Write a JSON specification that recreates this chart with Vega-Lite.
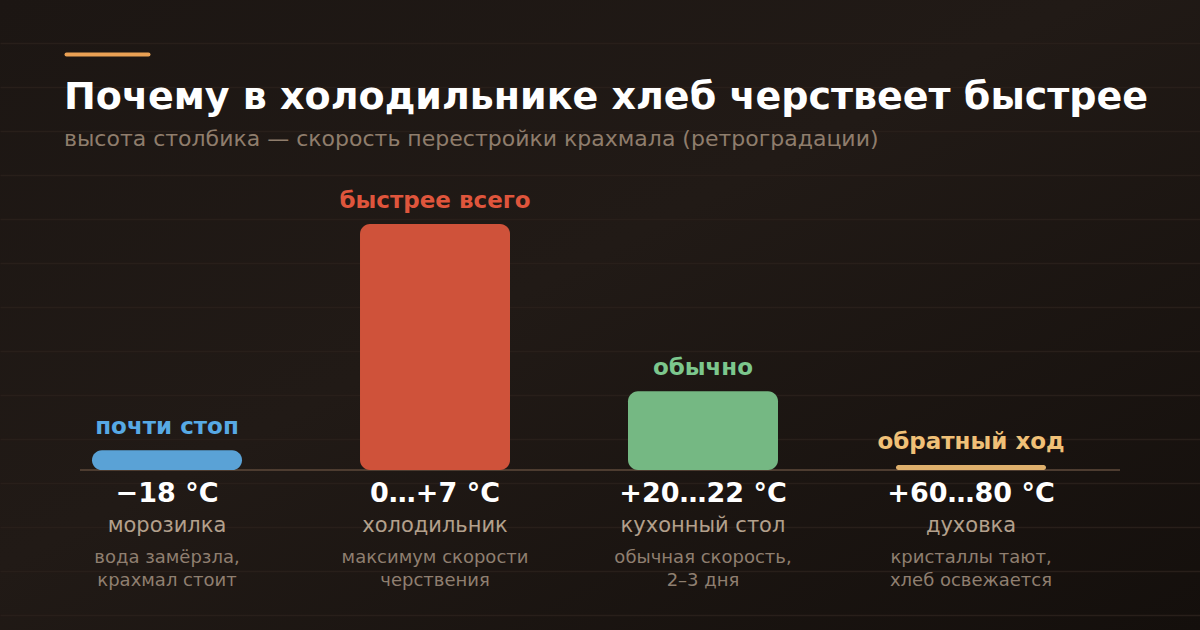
{
  "$schema": "https://vega.github.io/schema/vega-lite/v6.json",
  "description": "Почему в холодильнике хлеб черствеет быстрее: относительная скорость ретроградации крахмала при разных температурах.",
  "width": 1200,
  "height": 630,
  "padding": 0,
  "autosize": "none",
  "background": "#1e1814",
  "title": {
    "text": "Почему в холодильнике хлеб черствеет быстрее",
    "subtitle": "высота столбика — скорость перестройки крахмала (ретроградации)",
    "anchor": "start",
    "frame": "group",
    "offset": 0,
    "dx": 64,
    "dy": 150,
    "font": "DejaVu Sans",
    "fontSize": 38,
    "fontWeight": "bold",
    "color": "#ffffff",
    "subtitleFont": "DejaVu Sans",
    "subtitleFontSize": 22,
    "subtitleColor": "#8f7d6c",
    "subtitlePadding": 12
  },
  "config": {
    "view": {
      "stroke": null,
      "fill": {
        "gradient": "linear",
        "x1": 0, "y1": 0, "x2": 1, "y2": 1,
        "stops": [
          {"offset": 0, "color": "#1c1613"},
          {"offset": 0.45, "color": "#211a16"},
          {"offset": 1, "color": "#140f0c"}
        ]
      }
    },
    "text": {"font": "DejaVu Sans"}
  },
  "data": {
    "values": [
      {"place": "морозилка", "temp": "−18 °C", "note": "вода замёрзла,\nкрахмал стоит", "tag": "почти стоп", "speed": 8},
      {"place": "холодильник", "temp": "0…+7 °C", "note": "максимум скорости\nчерствения", "tag": "быстрее всего", "speed": 100},
      {"place": "кухонный стол", "temp": "+20…22 °C", "note": "обычная скорость,\n2–3 дня", "tag": "обычно", "speed": 32},
      {"place": "духовка", "temp": "+60…80 °C", "note": "кристаллы тают,\nхлеб освежается", "tag": "обратный ход", "speed": 2}
    ]
  },
  "layer": [
    {
      "mark": {"type": "rule", "color": "#4d3c30", "strokeWidth": 2, "strokeDash": [1040, 3000], "strokeDashOffset": 3960},
      "encoding": {
        "y": {"datum": 0, "type": "quantitative"}
      }
    },
    {
      "mark": {"type": "bar", "cornerRadius": 10},
      "encoding": {
        "x": {
          "field": "place",
          "type": "nominal",
          "sort": null,
          "scale": {"paddingInner": 0.4403, "paddingOuter": 0.459, "align": 0.374},
          "axis": {
            "orient": "top",
            "title": null,
            "labels": false,
            "ticks": false,
            "grid": false,
            "offset": -54,
            "domainColor": "#eaa154",
            "domainWidth": 4,
            "domainCap": "round",
            "domainDash": [82, 3000],
            "domainDashOffset": 3016
          }
        },
        "y": {
          "field": "speed",
          "type": "quantitative",
          "scale": {"domain": [-65.041, 191.057], "nice": false, "zero": false},
          "axis": {
            "title": null,
            "labels": false,
            "ticks": false,
            "domain": false,
            "grid": true,
            "gridColor": "#281f1a",
            "gridWidth": 1.5,
            "values": [173.58, 155.69, 137.80, 119.92, 102.03, 84.15, 66.26, 48.37, 30.49, 12.60, -5.28, -23.17, -41.06, -58.94]
          }
        },
        "y2": {"datum": 0},
        "fill": {
          "field": "place",
          "type": "nominal",
          "sort": null,
          "scale": {
            "domain": ["морозилка", "холодильник", "кухонный стол", "духовка"],
            "range": ["#5aa2d6", "#cf523a", "#75b883", "#dfb06c"]
          },
          "legend": null
        }
      }
    },
    {
      "mark": {"type": "text", "dy": -16, "baseline": "alphabetic", "fontSize": 23, "fontWeight": "bold"},
      "encoding": {
        "x": {"field": "place", "type": "nominal", "sort": null},
        "y": {"field": "speed", "type": "quantitative"},
        "text": {"field": "tag"},
        "color": {
          "field": "place",
          "type": "nominal",
          "sort": null,
          "scale": {
            "domain": ["морозилка", "холодильник", "кухонный стол", "духовка"],
            "range": ["#57a9e4", "#df553c", "#7cc78d", "#f0c077"]
          },
          "legend": null
        }
      }
    },
    {
      "mark": {"type": "text", "dy": 32, "baseline": "alphabetic", "fontSize": 27, "fontWeight": "bold", "color": "#ffffff"},
      "encoding": {
        "x": {"field": "place", "type": "nominal", "sort": null},
        "y": {"datum": 0, "type": "quantitative"},
        "text": {"field": "temp"}
      }
    },
    {
      "mark": {"type": "text", "dy": 62, "baseline": "alphabetic", "fontSize": 21, "color": "#b3a08c"},
      "encoding": {
        "x": {"field": "place", "type": "nominal", "sort": null},
        "y": {"datum": 0, "type": "quantitative"},
        "text": {"field": "place"}
      }
    },
    {
      "mark": {"type": "text", "dy": 93, "baseline": "alphabetic", "fontSize": 18, "lineHeight": 23, "lineBreak": "\n", "color": "#8f7f70"},
      "encoding": {
        "x": {"field": "place", "type": "nominal", "sort": null},
        "y": {"datum": 0, "type": "quantitative"},
        "text": {"field": "note"}
      }
    }
  ]
}
